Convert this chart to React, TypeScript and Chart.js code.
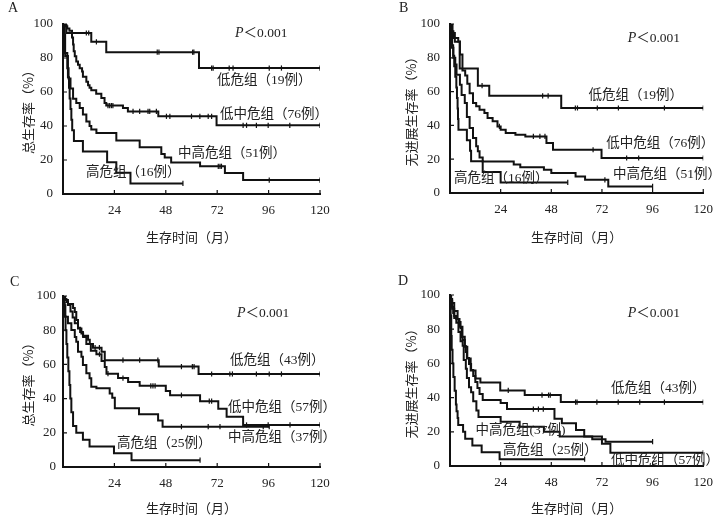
import React, { useEffect, useRef } from 'react';
import { Chart, registerables } from 'chart.js';
Chart.register(...registerables);

// ---------- shared axes ----------
const xTicks = [24, 48, 72, 96, 120];
const yTicks = [0, 20, 40, 60, 80, 100];
const xTitle = '生存时间（月）';
const pText = '＜0.001';

// ---------- Panel A : 总生存率 ----------
const aLowT = [0, 1.6, 13.2, 20.2, 63.5, 120];
const aLowS = [100, 94.7, 89.5, 83.4, 74.1, 74.1];
const aLowC = [10.9, 12, 15.6, 44, 44.8, 60.5, 61.1, 69.4, 70.1, 77.6, 79.4, 96.3, 102, 120];
const aLowMidT = [0, 1, 2, 3, 4.2, 4.7, 5.0, 5.5, 6.2, 7, 7.8, 8.9, 9.3, 10.9, 11.7, 12.4, 13.2, 15.5, 17.9, 19.4, 20.2, 28, 30.3, 44.5, 71.7, 120];
const aLowMidS = [100, 98.7, 97.4, 96, 92, 88, 84, 81, 78, 76, 74, 72, 69, 66, 64, 62.5, 61, 59, 56.5, 53.5, 52, 50.6, 48.6, 45.7, 40.4, 40.4];
const aLowMidC = [21, 21.8, 22.6, 23.3, 32.7, 35.8, 39.7, 40.5, 43.6, 48.3, 49.9, 60, 63.9, 67.8, 69.4, 84.1, 85.7, 90.3, 95.8, 105.9, 120];
const aMidHighT = [0, 0.8, 2, 2.6, 3.5, 4.7, 6.2, 7.8, 9.3, 10.9, 12.4, 13.2, 15.6, 24.9, 35.8, 45.9, 47.5, 50.5, 64, 75.6, 84.1, 120];
const aMidHighS = [100, 83, 74, 68, 62, 56, 53.5, 50.6, 46.7, 42.7, 40, 38, 35.9, 31.4, 27.5, 23.5, 21.5, 18.6, 16.3, 12.4, 8.2, 8.2];
const aMidHighC = [72.5, 73.3, 74, 96.3, 120];
const aHighT = [0, 0.5, 1, 2.3, 2.8, 3.1, 3.5, 3.9, 4.3, 5.1, 9.3, 20.6, 24.9, 31.5, 56];
const aHighS = [100, 93.75, 81.25, 68.75, 62.5, 56.25, 50, 43.75, 37.5, 31.25, 25, 18.75, 12.5, 6.25, 6.25];
const aHighC = [56];

// ---------- Panel B : 无进展生存率 ----------
const bLowT = [0, 1.2, 2.3, 4.6, 13.2, 18.6, 52.7, 120];
const bLowS = [100, 94.7, 89.5, 73.7, 63.5, 57.5, 50.3, 50.3];
const bLowC = [15.2, 43.9, 46.5, 59.4, 60.4, 69.8, 79.8, 101.6, 120];
const bLowMidT = [0, 0.8, 1.6, 3.9, 4.7, 5.9, 7.2, 8.2, 9.3, 10.9, 12.4, 14, 16.3, 17.8, 20.2, 22.5, 24, 26.4, 31, 35.7, 45.7, 48.8, 71.8, 120];
const bLowMidS = [100, 95.7, 91.7, 89.7, 81.9, 72.5, 69.6, 64.7, 59, 53.3, 51.3, 49.3, 47.3, 44.4, 42.4, 39.4, 37.5, 35.5, 34.5, 33.5, 29.6, 25.6, 20.7, 20.7];
const bLowMidC = [23.4, 39.5, 42.6, 45, 67.8, 83.7, 89.4, 120];
const bMidHighT = [0, 0.5, 0.8, 1.6, 2.5, 3.1, 4.7, 5.5, 7, 8, 9.3, 10.9, 12.4, 13.2, 14, 15.5, 30.2, 33.3, 44.5, 48, 59.5, 64, 75, 96];
const bMidHighS = [100, 96, 86, 80, 76, 70, 64, 58, 53.3, 45, 38.5, 32.5, 27.6, 24.7, 21, 18.7, 16.8, 15.2, 13.7, 11.8, 9.8, 7.8, 3.9, 3.9];
const bMidHighC = [73.4, 96];
const bHighT = [0, 0.5, 1, 1.5, 2, 2.5, 3, 3.3, 3.6, 3.8, 4, 8, 9.5, 10, 15.5, 24, 55.8];
const bHighS = [100, 93.75, 87.5, 81.25, 75, 68.75, 62.5, 56.25, 50, 43.75, 37.5, 31.25, 25, 18.75, 12.5, 6.25, 6.25];
const bHighC = [55.8];

// ---------- Panel C : 总生存率 ----------
const cLowT = [0, 1, 2.3, 4.7, 5.5, 6.2, 7, 8, 9.3, 11.7, 12.5, 14, 18, 19.5, 44.7, 63.3, 120];
const cLowS = [100, 97.7, 95.3, 93, 90.7, 86, 81.4, 79, 76.7, 74.4, 72, 69.8, 67.4, 62.5, 58.7, 54.4, 54.4];
const cLowC = [15, 17, 28, 35.8, 44.3, 55.3, 60.4, 61.2, 69.4, 77.9, 79.1, 90.3, 96.3, 102, 120];
const cLowMidT = [0, 0.8, 1.6, 2.3, 3.5, 4.5, 5.5, 7, 8.6, 9.4, 10.9, 13, 15.6, 18, 19.5, 20.3, 25.7, 30.4, 35.8, 48, 50, 64, 72.5, 76.4, 84.1, 120];
const cLowMidS = [100, 98.2, 96.5, 94.7, 91, 87.5, 84, 81, 78, 76, 72, 68, 66, 62, 58.5, 54.6, 52, 49.7, 47.5, 44.5, 42, 38.5, 34, 29.4, 24.6, 24.6];
const cLowMidC = [17, 21, 28, 41, 42, 43, 55.3, 68.3, 69.4, 85.7, 95.8, 106, 120];
const cMidHighT = [0, 0.5, 1.1, 2.3, 3.9, 5.5, 6.2, 7, 8.6, 9.3, 10.9, 12.4, 13.2, 15.6, 21.8, 23, 24.2, 35.5, 44.4, 46.5, 96.3];
const cMidHighS = [100, 94.6, 87.9, 84, 80.1, 76, 73.3, 67.4, 64.5, 59.6, 54.8, 51.9, 47, 46, 43, 40.5, 34.3, 30.8, 27.2, 23.6, 23.6];
const cMidHighC = [55.3, 67.8, 73.3, 93.5, 96.3];
const cHighT = [0, 0.3, 0.8, 1.2, 1.6, 2, 2.5, 3, 3.4, 3.9, 4.7, 6.2, 9.3, 12.4, 23.8, 32, 64];
const cHighS = [100, 96, 88, 80, 72, 64, 56, 48, 40, 32, 24, 20, 16, 12, 8, 4, 4];
const cHighC = [64];

// ---------- Panel D : 无进展生存率 ----------
const dLowT = [0, 0.5, 1, 2, 3.6, 4.5, 5.9, 7, 8.2, 9.8, 12.1, 14.4, 23.8, 35.4, 52.5, 120];
const dLowS = [100, 97.7, 95.3, 90.7, 86, 81.4, 75.6, 69.8, 62.8, 55.8, 51.2, 48.8, 44.2, 41.5, 37.4, 37.4];
const dLowC = [27.6, 43.6, 46.7, 47.5, 59.5, 60.2, 69.6, 79.7, 89.9, 101.6, 120];
const dLowMidT = [0, 0.5, 1, 1.5, 2, 3, 4, 5, 5.5, 6, 7, 7.5, 8, 9, 10, 11, 12, 13, 14, 15.5, 24, 27, 49.5, 53, 59.7, 63.6, 72, 76, 120];
const dLowMidS = [100, 96.5, 93, 89.5, 87.7, 86, 84.2, 80.7, 75.4, 73.7, 70.2, 66.7, 63.2, 59.6, 56.1, 52.6, 49.1, 45.6, 42.1, 38.6, 36.8, 33.3, 27.6, 25, 21, 17.2, 13, 7.8, 7.8];
const dLowMidC = [39.5, 41.9, 44.2, 120];
const dMidHighT = [0, 0.5, 1, 2, 3, 4, 5, 6, 6.5, 7.5, 8, 9, 10, 11, 12.5, 13.5, 24, 33, 44.5, 52, 67.4, 73.7, 96];
const dMidHighS = [100, 97.3, 91.9, 86.5, 83.8, 78.4, 73, 70.3, 62, 56.8, 51.4, 46, 43.2, 37.8, 32.4, 28.7, 25.9, 23, 20, 17.2, 15.6, 14.2, 14.2];
const dMidHighC = [96];
const dHighT = [0, 0.3, 0.6, 0.8, 1.2, 1.6, 2.2, 2.8, 3.1, 3.6, 3.9, 6.2, 7.2, 10.6, 15, 23.5, 63.8];
const dHighS = [100, 88, 76, 68, 60, 52, 44, 36, 32, 28, 24, 20, 16, 12, 8, 4, 4];
const dHighC = [63.8];

// ---------- group labels ----------
const aLabels = ['低危组（19例）', '低中危组（76例）', '中高危组（51例）', '高危组（16例）'];
const bLabels = ['低危组（19例）', '低中危组（76例）', '中高危组（51例）', '高危组（16例）'];
const cLabels = ['低危组（43例）', '低中危组（57例）', '中高危组（37例）', '高危组（25例）'];
const dLabels = ['低危组（43例）', '低中危组（57例）', '中高危组(37例)', '高危组（25例）'];

type Curve = { t: number[]; s: number[]; c: number[] };
type Panel = {
  letter: string;
  yTitle: string;
  pos: { left: number; top: number; w: number; h: number };
  area: { left: number; right: number; top: number; bottom: number };
  yTitlePad: number;
  xTitlePad: number;
  yTickPad: number;
  curves: Curve[];
  labels: string[];
  labelAt: [number, number][]; // data units (months, %)
  pAt: [number, number];
  letterAt: [number, number];
};

const panels: Panel[] = [
  {
    letter: 'A', yTitle: '总生存率（%）',
    pos: { left: 0, top: 0, w: 361, h: 260 },
    area: { left: 63, right: 320, top: 24, bottom: 194 },
    yTitlePad: 20, xTitlePad: 15, yTickPad: 10,
    curves: [
      { t: aLowT, s: aLowS, c: aLowC },
      { t: aLowMidT, s: aLowMidS, c: aLowMidC },
      { t: aMidHighT, s: aMidHighS, c: aMidHighC },
      { t: aHighT, s: aHighS, c: aHighC },
    ],
    labels: aLabels,
    labelAt: [[71.9, 67], [73.3, 47], [53.7, 24], [10.7, 12.4]],
    pAt: [80.3, 94.7], letterAt: [8, 8],
  },
  {
    letter: 'B', yTitle: '无进展生存率（%）',
    pos: { left: 361, top: 0, w: 361, h: 260 },
    area: { left: 89, right: 347, top: 24, bottom: 193 },
    yTitlePad: 42, xTitlePad: 15, yTickPad: 10,
    curves: [
      { t: bLowT, s: bLowS, c: bLowC },
      { t: bLowMidT, s: bLowMidS, c: bLowMidC },
      { t: bMidHighT, s: bMidHighS, c: bMidHighC },
      { t: bHighT, s: bHighS, c: bHighC },
    ],
    labels: bLabels,
    labelAt: [[65.6, 58], [74, 29.6], [77.2, 10.7], [1.9, 8.9]],
    pAt: [84.2, 91.7], letterAt: [38, 8],
  },
  {
    letter: 'C', yTitle: '总生存率（%）',
    pos: { left: 0, top: 260, w: 361, h: 259 },
    area: { left: 63, right: 320, top: 36, bottom: 207 },
    yTitlePad: 20, xTitlePad: 3, yTickPad: 7,
    curves: [
      { t: cLowT, s: cLowS, c: cLowC },
      { t: cLowMidT, s: cLowMidS, c: cLowMidC },
      { t: cMidHighT, s: cMidHighS, c: cMidHighC },
      { t: cHighT, s: cHighS, c: cHighC },
    ],
    labels: cLabels,
    labelAt: [[78, 62.6], [77, 35], [77, 17], [25.2, 14]],
    pAt: [81.2, 90], letterAt: [10, 22],
  },
  {
    letter: 'D', yTitle: '无进展生存率（%）',
    pos: { left: 361, top: 260, w: 361, h: 259 },
    area: { left: 89, right: 347, top: 35, bottom: 206 },
    yTitlePad: 42, xTitlePad: 3, yTickPad: 10,
    curves: [
      { t: dLowT, s: dLowS, c: dLowC },
      { t: dLowMidT, s: dLowMidS, c: dLowMidC },
      { t: dMidHighT, s: dMidHighS, c: dMidHighC },
      { t: dHighT, s: dHighS, c: dHighC },
    ],
    labels: dLabels,
    labelAt: [[76.3, 45.6], [76.3, 3.5], [12.1, 21], [25.1, 8.8]],
    pAt: [84.2, 89.5], letterAt: [37, 21],
  },
];

const INK = '#111';
const TXT = '#222';
const SERIF = "'Liberation Serif', 'Times New Roman', serif";
const MIXED = "'Liberation Serif', 'Noto Sans CJK SC', sans-serif";
const CJK = "'Noto Sans CJK SC', 'Liberation Serif', sans-serif";

function survivalAt(c: Curve, time: number): number {
  let v = c.s[0];
  for (let i = 0; i < c.t.length; i++) if (c.t[i] <= time) v = c.s[i];
  return v;
}

function PanelChart({ p }: { p: Panel }) {
  const ref = useRef<HTMLCanvasElement | null>(null);
  useEffect(() => {
    if (!ref.current) return;
    const { w, h } = p.pos;
    const a = p.area;
    const overlay = {
      id: 'overlay',
      afterDraw(chart: any) {
        const ctx = chart.ctx;
        const xs = chart.scales.x;
        const ys = chart.scales.y;
        ctx.save();
        // inward tick marks
        ctx.strokeStyle = INK;
        ctx.lineWidth = 1.2;
        ctx.beginPath();
        xTicks.forEach((v) => {
          const px = xs.getPixelForValue(v);
          ctx.moveTo(px, ys.bottom);
          ctx.lineTo(px, ys.bottom - 4);
        });
        yTicks.forEach((v) => {
          const py = ys.getPixelForValue(v);
          ctx.moveTo(xs.left, py);
          ctx.lineTo(xs.left + 4, py);
        });
        ctx.stroke();
        // group labels
        ctx.fillStyle = TXT;
        ctx.textBaseline = 'middle';
        ctx.textAlign = 'left';
        ctx.font = `13.5px ${MIXED}`;
        p.labels.forEach((txt, i) => {
          const [lx, ly] = p.labelAt[i];
          ctx.fillText(txt, xs.getPixelForValue(lx), ys.getPixelForValue(ly));
        });
        // P value
        const px = xs.getPixelForValue(p.pAt[0]);
        const py = ys.getPixelForValue(p.pAt[1]);
        ctx.font = `italic 14px ${SERIF}`;
        ctx.fillText('P', px, py);
        const pw = ctx.measureText('P').width;
        ctx.font = `13.5px ${MIXED}`;
        ctx.fillText(pText, px + pw, py);
        // panel letter
        ctx.font = `14px ${SERIF}`;
        ctx.fillText(p.letter, p.letterAt[0], p.letterAt[1]);
        ctx.restore();
      },
    };
    const lineSets = p.curves.map((c) => ({
      data: c.t.map((t, i) => ({ x: t, y: c.s[i] })),
      stepped: true,
      borderColor: INK,
      borderWidth: 2,
      pointRadius: 0,
      fill: false,
      tension: 0,
    }));
    const censorSets = p.curves.map((c) => ({
      data: c.c.map((t) => ({ x: t, y: survivalAt(c, t) })),
      showLine: false,
      pointStyle: 'line',
      rotation: 90,
      pointRadius: 2.6,
      borderColor: INK,
      backgroundColor: INK,
      borderWidth: 1.2,
    }));
    const chart = new Chart(ref.current, {
      type: 'line',
      data: { datasets: [...lineSets, ...censorSets] as any },
      options: {
        animation: false,
        responsive: false,
        maintainAspectRatio: false,
        layout: { padding: { left: 0, top: a.top, right: w - a.right, bottom: 0 } },
        plugins: { legend: { display: false }, tooltip: { enabled: false } },
        scales: {
          x: {
            type: 'linear',
            min: 0,
            max: 120,
            afterBuildTicks: (s: any) => { s.ticks = xTicks.map((v) => ({ value: v })); },
            afterFit: (s: any) => { s.height = h - a.bottom; },
            grid: { display: false, drawTicks: false, drawOnChartArea: false },
            border: { display: true, color: INK, width: 2 },
            ticks: { color: TXT, font: { family: SERIF, size: 13 }, padding: 9, maxRotation: 0, autoSkip: false },
            title: { display: true, text: xTitle, color: TXT, font: { family: CJK, size: 13 }, padding: { top: 0, bottom: p.xTitlePad } },
          },
          y: {
            type: 'linear',
            min: 0,
            max: 100,
            afterBuildTicks: (s: any) => { s.ticks = yTicks.map((v) => ({ value: v })); },
            afterFit: (s: any) => { s.width = a.left; },
            grid: { display: false, drawTicks: false, drawOnChartArea: false },
            border: { display: true, color: INK, width: 2 },
            ticks: { color: TXT, font: { family: SERIF, size: 13 }, padding: p.yTickPad },
            title: { display: true, text: p.yTitle, color: TXT, font: { family: CJK, size: 13 }, padding: { top: p.yTitlePad, bottom: 0 } },
          },
        },
      } as any,
      plugins: [overlay],
    });
    return () => chart.destroy();
  }, [p]);
  return (
    <canvas
      ref={ref}
      width={p.pos.w}
      height={p.pos.h}
      style={{ position: 'absolute', left: p.pos.left, top: p.pos.top, width: p.pos.w, height: p.pos.h }}
    />
  );
}

export default function App() {
  return (
    <div style={{ position: 'absolute', left: 0, top: 0, width: 722, height: 519, background: '#fff' }}>
      {panels.map((p) => (
        <PanelChart key={p.letter} p={p} />
      ))}
    </div>
  );
}
